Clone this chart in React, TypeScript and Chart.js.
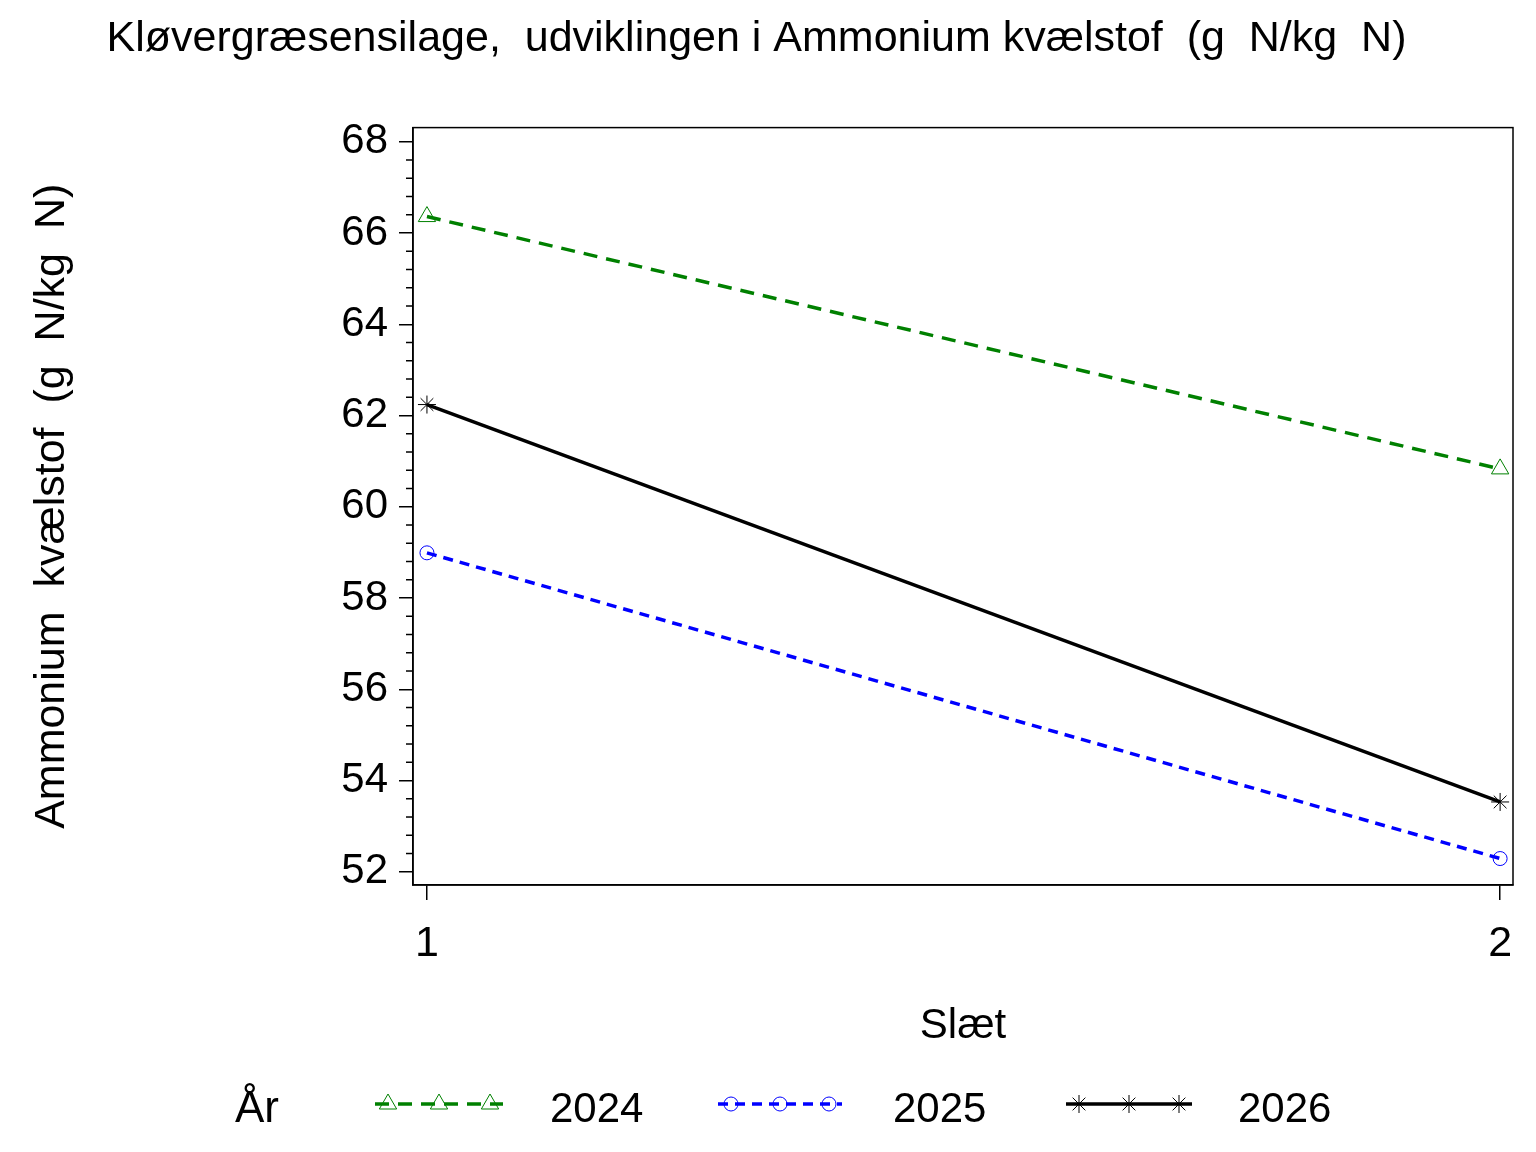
import React, { useEffect, useRef } from 'react';
import { Chart, registerables } from 'chart.js';
import { drawPoint } from 'chart.js/helpers';

Chart.register(...registerables);

// data
const slaet = [1, 2];
const years = ['2024', '2025', '2026'];
const ammonium2024 = [66.36, 60.83];
const ammonium2025 = [58.99, 52.29];
const ammonium2026 = [62.24, 53.53];
const yTicks = [52, 54, 56, 58, 60, 62, 64, 66, 68];
const xTicks = [1, 2];

const FONT = '"Liberation Sans", Arial, Helvetica, sans-serif';

const seriesStyle = [
    { color: '#008000', dash: [14, 9], pointStyle: 'triangle', radius: 10 },
    { color: '#0000ff', dash: [10, 7], pointStyle: 'circle', radius: 7 },
    { color: '#000000', dash: [], pointStyle: 'star', radius: 9 }
];

// legend boxes (sample line start/end, text x)
const legendLayout = [
    { x0: 375, x1: 503, tx: 550 },
    { x0: 718, x1: 842, tx: 893 },
    { x0: 1066, x1: 1192, tx: 1238 }
];

const frameAndMinor = {
    id: 'frameAndMinor',
    afterDraw(chart) {
        const { ctx, chartArea: a } = chart;
        const y = chart.scales.y;
        ctx.save();
        ctx.strokeStyle = '#000';
        ctx.lineWidth = 1.5;
        for (let i = 0; i < yTicks.length - 1; i++) {
            for (let k = 1; k < 5; k++) {
                const v = yTicks[i] + (k * (yTicks[i + 1] - yTicks[i])) / 5;
                const py = y.getPixelForValue(v);
                ctx.beginPath();
                ctx.moveTo(a.left - 7, py);
                ctx.lineTo(a.left, py);
                ctx.stroke();
            }
        }
        ctx.strokeRect(a.left, a.top, a.right - a.left, a.bottom - a.top);
        ctx.restore();
    }
};

const sasLegend = {
    id: 'sasLegend',
    afterDraw(chart) {
        const { ctx } = chart;
        const ly = 1104;
        ctx.save();
        ctx.fillStyle = '#000';
        ctx.font = `44px ${FONT}`;
        ctx.textBaseline = 'middle';
        ctx.textAlign = 'center';
        ctx.fillText('År', 257, ly + 6);
        ctx.textAlign = 'left';
        ctx.font = `42px ${FONT}`;
        chart.data.datasets.forEach((ds, i) => {
            const L = legendLayout[i];
            const st = seriesStyle[i];
            ctx.strokeStyle = st.color;
            ctx.lineWidth = 3.5;
            ctx.setLineDash(st.dash);
            ctx.beginPath();
            ctx.moveTo(L.x0, ly);
            ctx.lineTo(L.x1, ly);
            ctx.stroke();
            ctx.setLineDash([]);
            ctx.lineWidth = 1;
            ctx.fillStyle = 'rgba(0,0,0,0)';
            const marks = [L.x0 + 13, (L.x0 + L.x1) / 2, L.x1 - 13];
            marks.forEach((mx) => {
                drawPoint(ctx, { pointStyle: st.pointStyle, rotation: 0, radius: st.radius, borderWidth: 1 }, mx, ly);
            });
            ctx.fillStyle = '#000';
            ctx.fillText(ds.label, L.tx, ly + 6);
        });
        ctx.restore();
    }
};

export default function App() {
    const canvasRef = useRef(null);

    useEffect(() => {
        const series = [ammonium2024, ammonium2025, ammonium2026];
        const chart = new Chart(canvasRef.current, {
            type: 'line',
            data: {
                datasets: years.map((yr, i) => ({
                    label: yr,
                    data: slaet.map((s, j) => ({ x: s, y: series[i][j] })),
                    borderColor: seriesStyle[i].color,
                    backgroundColor: 'transparent',
                    borderWidth: 3.5,
                    borderDash: seriesStyle[i].dash,
                    pointStyle: seriesStyle[i].pointStyle,
                    pointRadius: seriesStyle[i].radius,
                    pointBorderWidth: 1,
                    pointBorderColor: seriesStyle[i].color,
                    pointBackgroundColor: 'transparent',
                    tension: 0
                }))
            },
            options: {
                animation: false,
                responsive: false,
                devicePixelRatio: 1,
                layout: { padding: { left: 0, right: 23, top: 0, bottom: 100 } },
                plugins: {
                    legend: { display: false },
                    tooltip: { enabled: false },
                    title: {
                        display: true,
                        text: 'Kløvergræsensilage,  udviklingen i Ammonium kvælstof  (g  N/kg  N)',
                        color: '#000',
                        font: { family: FONT, size: 43, weight: 'normal' },
                        padding: { top: 13, bottom: 63 }
                    }
                },
                scales: {
                    x: {
                        type: 'linear',
                        min: 0.987,
                        max: 2.012,
                        afterBuildTicks: (s) => { s.ticks = xTicks.map((v) => ({ value: v })); },
                        afterFit: (s) => { s.height = 167; },
                        ticks: {
                            color: '#000',
                            font: { family: FONT, size: 43 },
                            padding: 18,
                            maxRotation: 0,
                            callback: (v) => String(v)
                        },
                        grid: { drawOnChartArea: false, drawTicks: true, tickLength: 15, color: '#000', lineWidth: 1.5 },
                        border: { display: true, color: '#000', width: 1.5 },
                        title: {
                            display: true,
                            text: 'Slæt',
                            color: '#000',
                            font: { family: FONT, size: 42 },
                            padding: { top: 0, bottom: 0 }
                        }
                    },
                    y: {
                        min: 51.71,
                        max: 68.31,
                        afterBuildTicks: (s) => { s.ticks = yTicks.map((v) => ({ value: v })); },
                        afterFit: (s) => { s.width = 413; },
                        ticks: {
                            color: '#000',
                            font: { family: FONT, size: 42 },
                            padding: 11,
                            callback: (v) => String(v)
                        },
                        grid: { drawOnChartArea: false, drawTicks: true, tickLength: 14, color: '#000', lineWidth: 1.5 },
                        border: { display: true, color: '#000', width: 1.5 },
                        title: {
                            display: true,
                            text: 'Ammonium  kvælstof  (g  N/kg  N)',
                            color: '#000',
                            font: { family: FONT, size: 43 },
                            padding: { top: 26, bottom: 0 }
                        }
                    }
                }
            },
            plugins: [frameAndMinor, sasLegend]
        });

        return () => {
            chart.destroy();
        };
    }, []);

    return (
        <div style={{ position: 'absolute', left: 0, top: 0, width: 1536, height: 1152, background: '#fff' }}>
            <canvas ref={canvasRef} width={1536} height={1152} style={{ width: 1536, height: 1152 }} />
        </div>
    );
}
